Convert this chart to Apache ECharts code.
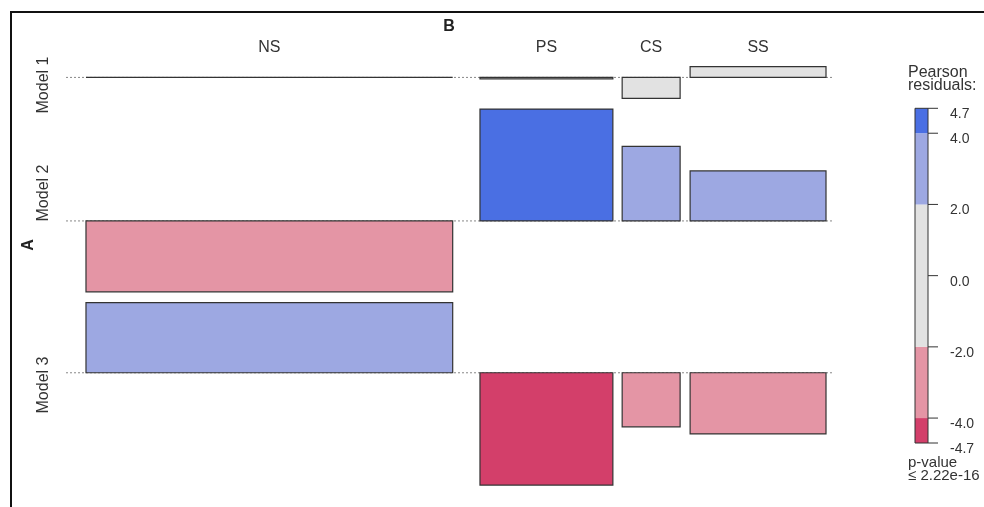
<!DOCTYPE html>
<html>
<head>
<meta charset="utf-8">
<script src="https://cdn.jsdelivr.net/npm/echarts@6/dist/echarts.min.js"></script>
<style>
  html, body { margin: 0; padding: 0; background: #fff; }
  #chart { width: 984px; height: 507px; }
</style>
</head>
<body>
<div id="chart"></div>
<script>
// association plot data
const colNames = ["NS", "PS", "CS", "SS"];
const rowNames = ["Model 1", "Model 2", "Model 3"];
// bar widths ~ sqrt(expected)
const colWidth = [36.7, 13.3, 5.8, 13.6];
// Pearson residuals per row
const resModel1 = [0.0, -0.06, -0.88, 0.45];
const resModel2 = [-2.98, 4.7, 3.13, 2.1];
const resModel3 = [2.95, -4.72, -2.27, -2.57];
// legend
const legendBreaks = [-4.7, -4, -2, 2, 4, 4.7];
const legendTicks = [-4.7, -4.0, -2.0, 0.0, 2.0, 4.0, 4.7];
const pValueText = "p-value\n≤ 2.22e-16";

const FONT = '"Liberation Sans", Arial, sans-serif';
const residuals = [resModel1, resModel2, resModel3];

// shading like vcd shading_hcl
function shade(v) {
  if (v > 4) return "#4A6FE3";
  if (v > 2) return "#9DA8E2";
  if (v < -4) return "#D33F6A";
  if (v < -2) return "#E495A5";
  return "#E2E2E2";
}

// layout of columns (x units) and rows (y units, residual scale)
const gapBefore = [2.0, 2.73, 0.93, 1.0];
const tailPad = 0.6;
const colStart = [];
let xc = 0;
colWidth.forEach((w, i) => {
  xc += gapBefore[i];
  colStart.push(xc);
  xc += w;
});
const xMax = xc + tailPad;

const rowGap = 0.45;
const base = [];
let yc = 0;
residuals.forEach((r) => {
  const up = Math.max(0, ...r);
  const down = Math.max(0, ...r.map((v) => -v));
  base.push(yc + up);
  yc += up + down + rowGap;
});
const yMax = yc - rowGap;

const barData = [];
residuals.forEach((r, i) => r.forEach((v, j) => barData.push([i, j, v])));

const chart = echarts.init(document.getElementById("chart"));
chart.setOption({
  animation: false,
  textStyle: { fontFamily: FONT },
  grid: [
    { left: 66, right: 152, top: 66.7, bottom: 21.9 },
    { left: 915, width: 13, top: 108.3, height: 334.7 },
  ],
  xAxis: [
    { type: "value", gridIndex: 0, min: 0, max: xMax, show: false },
    { type: "value", gridIndex: 1, min: 0, max: 1, show: false },
  ],
  yAxis: [
    { type: "value", gridIndex: 0, min: 0, max: yMax, inverse: true, show: false },
    {
      type: "value",
      gridIndex: 1,
      min: -4.7,
      max: 4.7,
      position: "right",
      axisLine: { show: false },
      axisTick: { show: false },
      axisLabel: {
        customValues: legendTicks,
        formatter: (v) => v.toFixed(1),
        margin: 22,
        fontSize: 14,
        color: "#333",
        verticalAlign: "top",
        lineHeight: 12,
      },
      splitLine: { show: false },
    },
  ],
  series: [
    {
      // dotted baselines
      type: "custom",
      xAxisIndex: 0,
      yAxisIndex: 0,
      data: rowNames.map((n, i) => [i]),
      renderItem(params, api) {
        const r = api.value(0);
        const a = api.coord([0, base[r]]);
        const b = api.coord([xMax, base[r]]);
        return {
          type: "line",
          shape: { x1: a[0], y1: a[1], x2: b[0], y2: b[1] },
          style: { stroke: "#888", lineWidth: 1, lineDash: [2, 2] },
        };
      },
    },
    {
      type: "custom",
      xAxisIndex: 0,
      yAxisIndex: 0,
      data: barData,
      renderItem(params, api) {
        const r = api.value(0), c = api.value(1), v = api.value(2);
        const p0 = api.coord([colStart[c], base[r] - Math.max(v, 0)]);
        const p1 = api.coord([colStart[c] + colWidth[c], base[r] + Math.max(-v, 0)]);
        return {
          type: "rect",
          shape: { x: p0[0], y: p0[1], width: p1[0] - p0[0], height: p1[1] - p0[1] },
          style: { fill: shade(v), stroke: "#333", lineWidth: 1.2 },
        };
      },
    },
    {
      // column labels
      type: "custom",
      xAxisIndex: 0,
      yAxisIndex: 0,
      data: colNames.map((n, i) => [i]),
      renderItem(params, api) {
        const c = api.value(0);
        const p = api.coord([colStart[c] + colWidth[c] / 2, 0]);
        return {
          type: "text",
          x: p[0],
          y: p[1] - 19,
          style: {
            text: colNames[c],
            font: "16px " + FONT,
            fill: "#333",
            align: "center",
            verticalAlign: "middle",
          },
        };
      },
    },
    {
      // colour bar with ticks
      type: "custom",
      xAxisIndex: 1,
      yAxisIndex: 1,
      data: [[0]],
      renderItem(params, api) {
        const kids = [];
        for (let k = 0; k < legendBreaks.length - 1; k++) {
          const lo = legendBreaks[k], hi = legendBreaks[k + 1];
          const a = api.coord([0, hi]);
          const b = api.coord([1, lo]);
          kids.push({
            type: "rect",
            shape: { x: a[0], y: a[1], width: b[0] - a[0], height: b[1] - a[1] },
            style: { fill: shade((lo + hi) / 2) },
          });
        }
        const t = api.coord([0, legendBreaks[legendBreaks.length - 1]]);
        const u = api.coord([1, legendBreaks[0]]);
        kids.push({
          type: "rect",
          shape: { x: t[0], y: t[1], width: u[0] - t[0], height: u[1] - t[1] },
          style: { fill: "none", stroke: "#333", lineWidth: 1 },
        });
        legendTicks.forEach((v) => {
          const p = api.coord([1, v]);
          kids.push({
            type: "line",
            shape: { x1: p[0], y1: p[1], x2: p[0] + 10, y2: p[1] },
            style: { stroke: "#333", lineWidth: 1 },
          });
        });
        return { type: "group", children: kids };
      },
    },
  ],
  graphic: [
    {
      type: "rect",
      shape: { x: 11, y: 12, width: 1000, height: 600 },
      style: { fill: "none", stroke: "#111", lineWidth: 2 },
      silent: true,
    },
    {
      type: "text",
      x: 449,
      y: 27,
      style: { text: "B", font: "bold 16px " + FONT, fill: "#222", align: "center", verticalAlign: "middle" },
    },
    {
      type: "text",
      x: 29,
      y: 245,
      rotation: Math.PI / 2,
      style: { text: "A", font: "bold 16px " + FONT, fill: "#222", align: "center", verticalAlign: "middle" },
    },
    ...rowNames.map((n, i) => ({
      type: "text",
      x: 44,
      y: [85, 193, 385][i],
      rotation: Math.PI / 2,
      style: { text: n, font: "16px " + FONT, fill: "#333", align: "center", verticalAlign: "middle" },
    })),
    {
      type: "text",
      x: 908,
      y: 66,
      style: { text: "Pearson\nresiduals:", font: "16px " + FONT, lineHeight: 13, fill: "#333" },
    },
    {
      type: "text",
      x: 908,
      y: 456,
      style: { text: pValueText, font: "15px " + FONT, lineHeight: 13, fill: "#333" },
    },
  ],
});
</script>
</body>
</html>
